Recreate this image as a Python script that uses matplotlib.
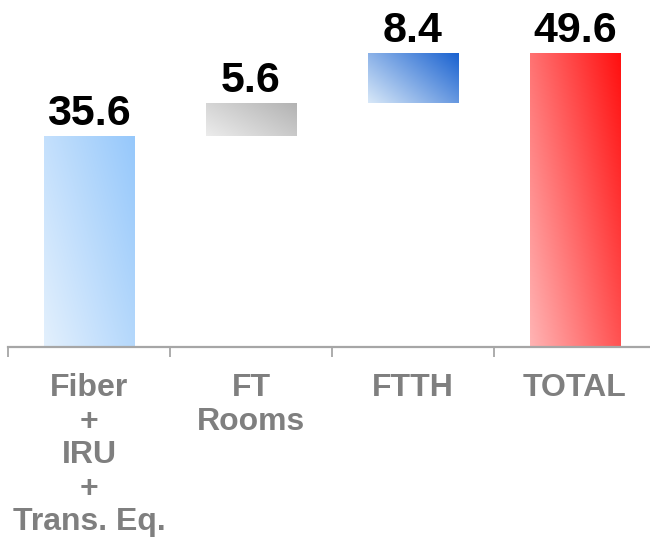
import numpy as np
import matplotlib.pyplot as plt
from matplotlib.colors import LinearSegmentedColormap

categories = ['Fiber\n+\nIRU\n+\nTrans. Eq.', 'FT\nRooms', 'FTTH', 'TOTAL']
values = [35.6, 5.6, 8.4, 49.6]
labels = ['35.6', '5.6', '8.4', '49.6']
# (bottom-left colour, top-right colour) for each bar
grad_colors = [('#e3f0fd', '#96c8fb'),
               ('#ececec', '#b2b2b2'),
               ('#d8e8f8', '#1a62d0'),
               ('#ffb4b4', '#ff1010')]

plt.rcParams['font.family'] = ['Liberation Sans', 'DejaVu Sans']

fig = plt.figure(figsize=(6.5, 5.42), dpi=100)
ax = fig.add_axes([0.0123, 0.36, 0.9877, 0.64])

# waterfall bottoms: first and last bars start at zero
bottoms = [0, values[0], values[0] + values[1], 0]
x = np.arange(len(values))
bars = ax.bar(x, values, width=0.56, bottom=bottoms, color='none', edgecolor='none')

grad = np.linspace(0, 1, 200)
gx, gy = np.meshgrid(grad, grad)
diag = (gx * 0.6 + gy * 0.4)
for bar, (c0, c1) in zip(bars, grad_colors):
    cmap = LinearSegmentedColormap.from_list('g', [c0, c1])
    x0, y0 = bar.get_x(), bar.get_y()
    w, h = bar.get_width(), bar.get_height()
    im = ax.imshow(diag, cmap=cmap, origin='lower', aspect='auto',
                   extent=(x0, x0 + w, y0, y0 + h), interpolation='bilinear', zorder=2)
    im.set_clip_path(bar)

for bar, lab in zip(bars, labels):
    top = bar.get_y() + bar.get_height()
    ax.annotate(lab, (bar.get_x() + bar.get_width() / 2, top), xytext=(0, 8),
                textcoords='offset points', ha='center', va='baseline',
                fontsize=31, fontweight='bold', color='black')

ax.set_xlim(-0.5, 3.463)
ax.set_ylim(0, 58.6)

for s in ['top', 'left', 'right']:
    ax.spines[s].set_visible(False)
ax.spines['bottom'].set_color('#a6a6a6')
ax.spines['bottom'].set_linewidth(1.6)
ax.set_yticks([])

ax.set_xticks([-0.5, 0.5, 1.5, 2.5])
ax.set_xticklabels([])
ax.tick_params(axis='x', which='major', length=7, width=1.3, color='#a6a6a6', direction='out')
ax.set_xticks(x, minor=True)
ax.set_xticklabels(categories, minor=True, fontsize=23, fontweight='bold', color='#7f7f7f',
                   linespacing=1.15)
ax.tick_params(axis='x', which='minor', length=0, pad=19)

fig.savefig('out.png', dpi=100)
